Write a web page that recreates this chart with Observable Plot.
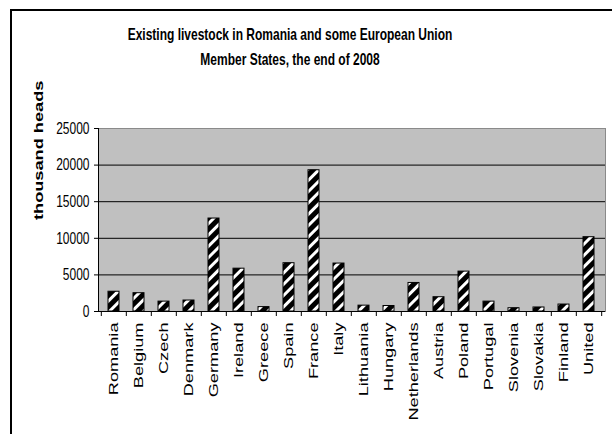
<!DOCTYPE html>
<html>
<head>
<meta charset="utf-8">
<script src="https://cdn.jsdelivr.net/npm/d3@7"></script>
<script src="https://cdn.jsdelivr.net/npm/@observablehq/plot@0.6"></script>
<style>
html,body{margin:0;padding:0;background:#fff;}
#wrap{position:relative;width:612px;height:434px;overflow:hidden;font-family:"Liberation Sans",Arial,sans-serif;}
#chart{position:absolute;left:0;top:0;}
#border{position:absolute;left:10px;top:9px;width:700px;height:600px;border:2px solid #000;box-sizing:border-box;pointer-events:none;}
#title{position:absolute;left:0;width:580px;top:22px;text-align:center;font-weight:bold;font-size:12px;line-height:18px;color:#000;transform:scaleY(1.4);transform-origin:0 0;white-space:nowrap;}
</style>
</head>
<body>
<div id="wrap">
  <div id="chart"></div>
  <div id="title"></div>
  <div id="border"></div>
</div>
<script>
const titleLines = ["Existing livestock in Romania and some European Union", "Member States, the end of 2008"];
const yLabel = "thousand heads";
const countries = ["Romania","Belgium","Czech","Denmark","Germany","Ireland","Greece","Spain","France","Italy","Lithuania","Hungary","Netherlands","Austria","Poland","Portugal","Slovenia","Slovakia","Finland","United"];
const heads = [2700,2500,1350,1500,12700,5850,600,6600,19300,6550,800,750,3900,1950,5450,1350,450,550,950,10150];
const yTicks = [0,5000,10000,15000,20000,25000];

document.getElementById("title").innerHTML = titleLines.map(t => `<div>${t}</div>`).join("");

const data = countries.map((c, i) => ({country: c, value: heads[i]}));
const W = 612, H = 434, mL = 98, mR = 7, mT = 128, mB = 123;
const step = (W - mL - mR) / countries.length;

const chart = Plot.plot({
  width: W, height: H,
  marginLeft: mL, marginRight: mR, marginTop: mT, marginBottom: mB,
  style: {fontFamily: "'Liberation Sans', Arial, sans-serif", background: "transparent", overflow: "visible", color: "#000"},
  x: {domain: countries, paddingInner: 0.55, paddingOuter: 0.275, label: null},
  y: {domain: [0, 25000], label: null},
  marks: [
    Plot.frame({fill: "#c0c0c0", stroke: "#8a8a8a"}),
    Plot.gridY(yTicks.filter(t => t > 0 && t < 25000), {stroke: "#000", strokeOpacity: 1}),
    Plot.barY(data, {x: "country", y: "value", fill: "url(#stripes)", stroke: "#000", strokeWidth: 1}),
    Plot.ruleY([0], {stroke: "#000"}),
    Plot.frame({anchor: "left", stroke: "#000"}),
    Plot.axisY(yTicks, {tickSize: 4, tickPadding: 5, fontSize: 12, label: null, tickFormat: d => String(d)}),
    Plot.axisX({tickSize: 0, tickPadding: 11, tickRotate: -90, fontSize: 13, label: null}),
    Plot.axisX(countries, {tickSize: 5, fill: "none", dx: -step / 2, label: null}),
    Plot.axisX([countries[countries.length - 1]], {tickSize: 5, fill: "none", dx: step / 2, label: null}),
    Plot.text([yLabel], {frameAnchor: "left", dx: -60, rotate: -90, fontWeight: "bold", fontSize: 13})
  ]
});

document.getElementById("chart").appendChild(chart);

const svg = d3.select(chart);
svg.insert("defs", ":first-child").html(
  `<pattern id="stripes" patternUnits="userSpaceOnUse" width="8" height="8" patternTransform="rotate(45)">` +
  `<rect width="8" height="8" fill="#000"/><rect x="0" width="3" height="8" fill="#fff"/></pattern>`
);

// vertical stretch of the lettering, as in the reference picture
const yTickSet = new Set(yTicks.map(String));
const xSet = new Set(countries);
svg.selectAll("text").each(function() {
  const txt = this.textContent;
  let s = null;
  if (yTickSet.has(txt)) s = "1,1.4";
  else if (xSet.has(txt) || txt === yLabel) s = "1.4,1";
  if (!s) return;
  const t = this.getAttribute("transform");
  if (t) this.setAttribute("transform", t + ` scale(${s})`);
});
</script>
</body>
</html>
